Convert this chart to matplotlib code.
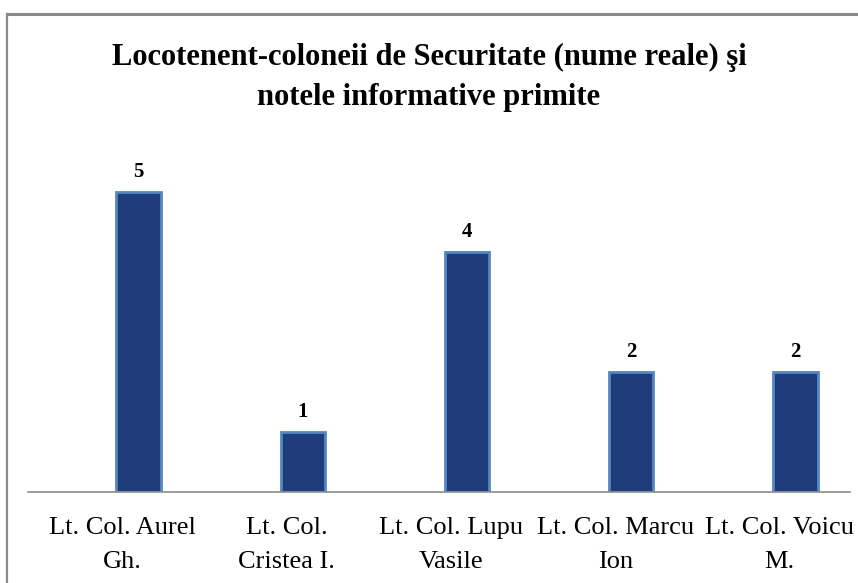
import matplotlib
matplotlib.use("Agg")
import matplotlib.pyplot as plt
from matplotlib.lines import Line2D
from matplotlib.transforms import ScaledTranslation

plt.rcParams['font.family'] = ['Liberation Serif', 'DejaVu Serif']
SERIF = ['Liberation Serif', 'DejaVu Serif']

categories = ["Lt. Col. Aurel Gh.", "Lt. Col. Cristea I.", "Lt. Col. Lupu Vasile",
              "Lt. Col. Marcu Ion", "Lt. Col. Voicu M."]
tick_labels = ["Lt. Col. Aurel\nGh.", "Lt. Col.\nCristea I.", "Lt. Col. Lupu\nVasile",
               "Lt. Col. Marcu\nIon", "Lt. Col. Voicu\nM."]
values = [5, 1, 4, 2, 2]
title = "Locotenent-coloneii de Securitate (nume reale) şi\nnotele informative primite"

W, H = 858, 583
fig = plt.figure(figsize=(W / 100, H / 100), dpi=100)

ax_left, ax_right = 28, 850
ax_bottom, ax_top = 492, 132
ax = fig.add_axes([ax_left / W, 1 - ax_bottom / H, (ax_right - ax_left) / W, (ax_bottom - ax_top) / H])

x = list(range(len(categories)))
ax.bar(x, values, width=0.27, color='#1f3d7a', edgecolor='#5586c4', linewidth=2.0, zorder=2)

ax.set_xlim(-0.673, 4.332)
ax.set_ylim(0, 6)

for xi, v in zip(x, values):
    ax.annotate(str(v), (xi, v), xytext=(0, 7), textcoords='offset points',
                ha='center', va='bottom', fontsize=15, fontweight='bold', color='black',
                family=SERIF)

for s in ['top', 'right', 'left']:
    ax.spines[s].set_visible(False)
ax.spines['bottom'].set_color('#8c8c8c')
ax.spines['bottom'].set_linewidth(1.2)
ax.set_yticks([])
ax.set_xticks(x)
ax.set_xticklabels(tick_labels, fontsize=19, linespacing=1.7, family=SERIF)
ax.tick_params(axis='x', length=0, pad=18)
shift = ScaledTranslation(-16 / 100, 0, fig.dpi_scale_trans)
for lbl in ax.get_xticklabels():
    lbl.set_transform(lbl.get_transform() + shift)

fig.text(0.5, 1 - 77 / H, title, ha='center', va='center', fontsize=22,
         fontweight='bold', linespacing=1.5, family=SERIF)

# outer frame lines (top and left)
fig.add_artist(Line2D([7 / W, 1], [1 - 14 / H, 1 - 14 / H], transform=fig.transFigure,
                      color='#8a8a8a', linewidth=2.2))
fig.add_artist(Line2D([7 / W, 7 / W], [1 - 14 / H, 0], transform=fig.transFigure,
                      color='#8a8a8a', linewidth=1.6))

fig.savefig("out.png", dpi=100)
